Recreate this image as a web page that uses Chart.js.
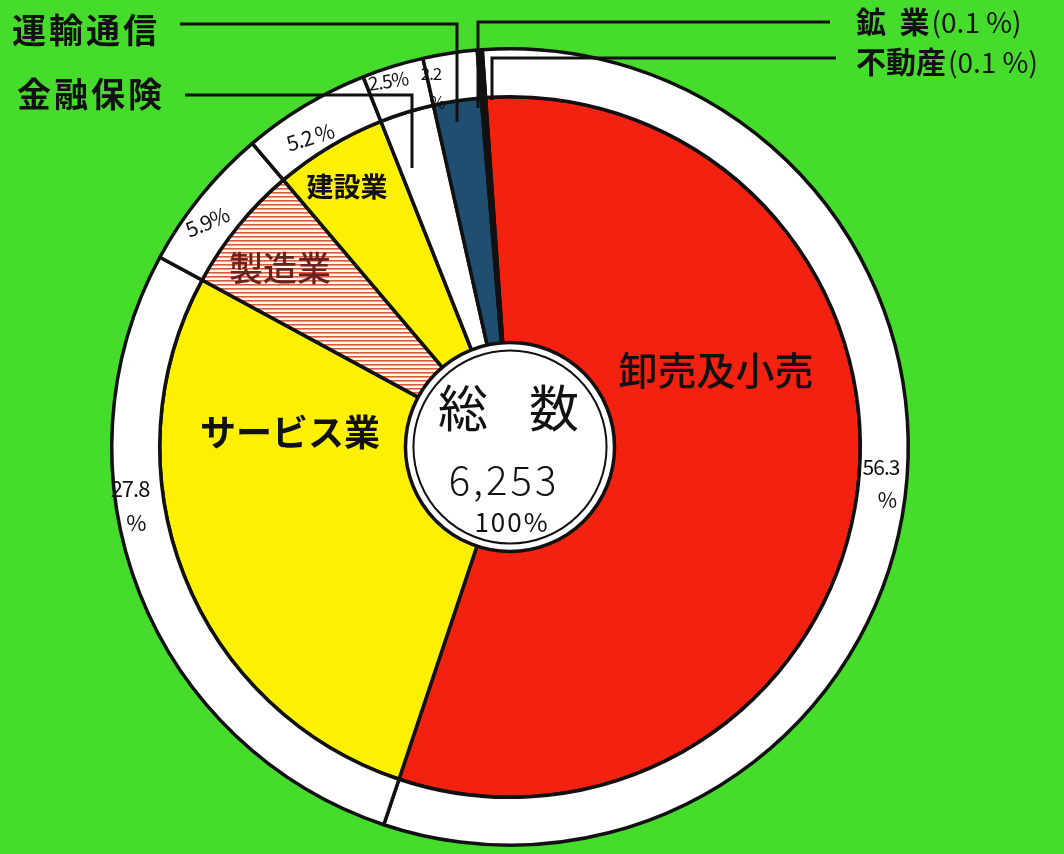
<!DOCTYPE html>
<html>
<head>
<meta charset="utf-8">
<script src="https://cdn.jsdelivr.net/npm/chart.js@4.4.0/dist/chart.umd.min.js"></script>
<style>
  html, body { margin: 0; padding: 0; background: #46dc2c; }
  #wrap { width: 1064px; height: 854px; position: relative; }
</style>
</head>
<body>
<div id="wrap"><canvas id="pieChart"></canvas></div>
<script>
// 産業別構成 (総数 6,253)
const categories = ['卸売及小売', 'サービス業', '製造業', '建設業', '金融保険', '運輸通信', '鉱業', '不動産'];
const shares = [56.3, 27.8, 5.9, 5.2, 2.5, 2.2, 0.1, 0.1];
const shareTexts = [['56.3', '%'], ['27.8', '%'], ['5.9%'], ['5.2 %'], ['2.5%'], ['2.2', '%'], ['(0.1 %)'], ['(0.1 %)']];
const totalCount = '6,253';
const totalShare = '100%';

const JP = '"Noto Sans CJK JP", "Noto Sans", sans-serif';

function stripes(bg, line, gap) {
    const c = document.createElement('canvas');
    c.width = 8; c.height = gap;
    const g = c.getContext('2d');
    g.fillStyle = bg; g.fillRect(0, 0, 8, gap);
    g.fillStyle = line; g.fillRect(0, 0, 8, 1.6);
    return g.createPattern(c, 'repeat');
}

const fills = [
    '#f3210f',
    '#fdf000',
    stripes('#fff6ee', '#e0583c', 4),
    '#fdf000',
    '#ffffff',
    '#1f4e70',
    stripes('#fff6ee', '#e0583c', 4),
    '#111111'
];

// where the inside labels sit, relative to the pie centre
const insideLabels = [
    { dx: 206, dy: -77, font: '500 39px ' + JP, color: '#111' },
    { dx: -220, dy: -15, font: 'bold 36px ' + JP, color: '#111' },
    { dx: -230, dy: -179, font: '500 34px ' + JP, color: '#6e2020' },
    { dx: -163, dy: -260, font: 'bold 27px ' + JP, color: '#111' }
];
const ringLabels = [
    { dx: 371, dy: 20, rot: 0, size: 21 },
    { dx: -380, dy: 42, rot: 0, size: 22 },
    { dx: -303, dy: -225, rot: -0.4, size: 21 },
    { dx: -200, dy: -310, rot: -0.3, size: 21 },
    { dx: -122, dy: -366, rot: -0.15, size: 19 },
    { dx: -79, dy: -373, rot: 0, size: 17 }
];
// outside names with leader lines (canvas coords)
const leaders = [
    { i: 5, tx: 86, ty: 30, align: 'center', pts: [[180, 24], [457, 24], [457, 122]] },
    { i: 4, tx: 91, ty: 94, align: 'center', pts: [[185, 95], [412, 95], [412, 168]] },
    { i: 6, tx: 856, ty: 22, align: 'left', pts: [[830, 22], [478, 22], [478, 108]] },
    { i: 7, tx: 856, ty: 62, align: 'left', pts: [[836, 58], [492, 58], [492, 100]] }
];

const annotate = {
    id: 'annotate',
    afterDatasetsDraw(chart) {
        const ctx = chart.ctx;
        const arc = chart.getDatasetMeta(1).data[0];
        const cx = arc.x, cy = arc.y, hole = arc.innerRadius;

        ctx.save();
        // centre disc with double rim
        ctx.beginPath();
        ctx.arc(cx, cy, hole + 1, 0, Math.PI * 2);
        ctx.fillStyle = '#ffffff';
        ctx.fill();
        ctx.lineWidth = 3.5;
        ctx.strokeStyle = '#111';
        ctx.stroke();
        ctx.beginPath();
        ctx.arc(cx, cy, hole - 7, 0, Math.PI * 2);
        ctx.lineWidth = 2;
        ctx.stroke();

        ctx.fillStyle = '#111';
        ctx.textAlign = 'center';
        ctx.textBaseline = 'middle';
        ctx.font = '50px ' + JP;
        ctx.fillText('総', cx - 47, cy - 39);
        ctx.fillText('数', cx + 44, cy - 39);
        ctx.font = '300 40px ' + JP;
        ctx.letterSpacing = '3px';
        ctx.fillText(totalCount, cx - 6, cy + 33);
        ctx.font = '26px ' + JP;
        ctx.letterSpacing = '2px';
        ctx.fillText(totalShare, cx + 2, cy + 75);
        ctx.letterSpacing = '0px';

        // names inside the slices
        insideLabels.forEach((l, i) => {
            ctx.font = l.font;
            ctx.fillStyle = l.color;
            ctx.fillText(categories[i], cx + l.dx, cy + l.dy);
        });

        // percentages in the outer ring
        ctx.fillStyle = '#111';
        ringLabels.forEach((l, i) => {
            const lines = shareTexts[i];
            ctx.save();
            ctx.translate(cx + l.dx, cy + l.dy);
            ctx.rotate(l.rot);
            ctx.font = l.size + 'px ' + JP;
            ctx.letterSpacing = '-1px';
            lines.forEach((t, k) => ctx.fillText(t, k ? 6 : 0, k * (l.size + 12)));
            ctx.restore();
        });

        // leader lines and outside names
        ctx.lineWidth = 3;
        ctx.strokeStyle = '#111';
        leaders.forEach(l => {
            ctx.beginPath();
            l.pts.forEach((p, k) => k ? ctx.lineTo(p[0], p[1]) : ctx.moveTo(p[0], p[1]));
            ctx.stroke();
            ctx.textAlign = l.align;
            const name = categories[l.i];
            if (l.align === 'center') {
                ctx.font = 'bold 34px ' + JP;
                ctx.letterSpacing = '3px';
                ctx.fillText(name, l.tx, l.ty);
            } else {
                ctx.font = 'bold 30px ' + JP;
                ctx.letterSpacing = '0px';
                const shown = name.length === 2 ? name[0] + '  ' + name[1] : name;
                ctx.fillText(shown, l.tx, l.ty);
                const w = ctx.measureText(shown).width;
                ctx.font = '28px ' + JP;
                ctx.fillText(shareTexts[l.i][0], l.tx + w + 2, l.ty);
            }
        });
        ctx.restore();
    }
};

new Chart(document.getElementById('pieChart'), {
    type: 'doughnut',
    data: {
        labels: categories,
        datasets: [
            {
                data: shares,
                backgroundColor: '#ffffff',
                borderColor: '#111',
                borderWidth: 3.5,
                weight: 48
            },
            {
                data: shares,
                backgroundColor: fills,
                borderColor: '#111',
                borderWidth: 3.5,
                weight: 247
            }
        ]
    },
    options: {
        responsive: true,
        maintainAspectRatio: false,
        animation: false,
        rotation: -4,
        cutout: '26%',
        layout: { padding: { left: 110, right: 154, top: 47, bottom: 7 } },
        plugins: {
            legend: { display: false },
            tooltip: { enabled: false }
        }
    },
    plugins: [annotate]
});
</script>
</body>
</html>
